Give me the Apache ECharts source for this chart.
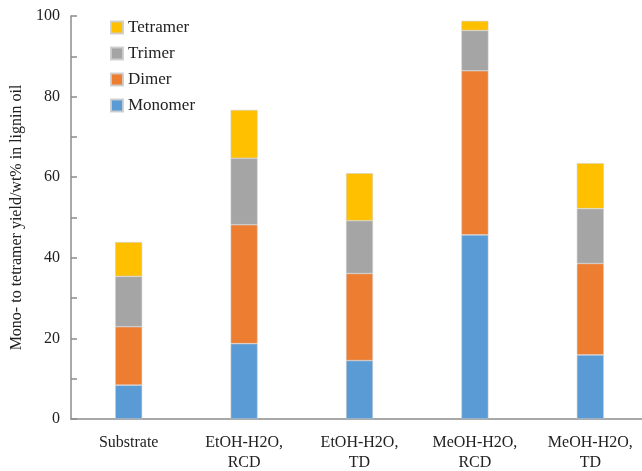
<!DOCTYPE html>
<html>
<head>
<meta charset="utf-8">
<script src="https://cdn.jsdelivr.net/npm/echarts@6/dist/echarts.min.js"></script>
<style>html,body{margin:0;padding:0;background:#fff;}#chart{width:642px;height:471px;}</style>
</head>
<body>
<div id="chart"></div>
<script>
const categories = ['Substrate', 'EtOH-H2O,\nRCD', 'EtOH-H2O,\nTD', 'MeOH-H2O,\nRCD', 'MeOH-H2O,\nTD'];
const monomer = [8.4, 18.7, 14.5, 45.7, 15.9];
const dimer = [14.5, 29.5, 21.6, 40.7, 22.7];
const trimer = [12.5, 16.5, 13.1, 10.0, 13.6];
const tetramer = [8.5, 12.0, 11.8, 2.4, 11.3];
const yTicks = [0, 20, 40, 60, 80, 100];

const font = 'Liberation Serif, Times New Roman, serif';
const chart = echarts.init(document.getElementById('chart'), null, {renderer: 'canvas'});
function s(name, data, color) {
  return {
    name: name, type: 'bar', stack: 'total', data: data, barWidth: 27,
    itemStyle: {color: color, borderColor: 'rgba(205,205,205,0.9)', borderWidth: 0.6},
    emphasis: {disabled: true}
  };
}
chart.setOption({
  animation: false,
  textStyle: {fontFamily: font},
  grid: {left: 71, right: -6, top: 16, bottom: 52, containLabel: false, outerBoundsMode: 'none'},
  legend: {
    data: ['Tetramer', 'Trimer', 'Dimer', 'Monomer'],
    orient: 'vertical', left: 105, top: 14,
    itemWidth: 12, itemHeight: 12, itemGap: 9,
    icon: 'rect',
    textStyle: {fontFamily: font, fontSize: 17, color: '#222'}
  },
  xAxis: {
    type: 'category', data: categories,
    axisLine: {lineStyle: {color: '#8c8c8c', width: 1.5}},
    axisTick: {show: false},
    axisLabel: {fontFamily: font, fontSize: 16, color: '#222', margin: 14, lineHeight: 20, interval: 0}
  },
  yAxis: {
    type: 'value', min: yTicks[0], max: yTicks[yTicks.length - 1], interval: 20,
    name: 'Mono- to tetramer yield/wt% in lignin oil',
    nameLocation: 'middle', nameGap: 44,
    nameTextStyle: {fontFamily: font, fontSize: 16, color: '#222'},
    axisLine: {show: true, lineStyle: {color: '#8c8c8c', width: 1.5}},
    axisTick: {show: true, inside: true, length: 6, lineStyle: {color: '#8c8c8c', width: 1.5}},
    minorTick: {show: true, splitNumber: 2, length: 6, lineStyle: {color: '#8c8c8c', width: 1.5}},
    splitLine: {show: false},
    axisLabel: {fontFamily: font, fontSize: 16, color: '#222', margin: 11}
  },
  series: [
    s('Monomer', monomer, '#5B9BD5'),
    s('Dimer', dimer, '#ED7D31'),
    s('Trimer', trimer, '#A5A5A5'),
    s('Tetramer', tetramer, '#FFC000')
  ]
});
</script>
</body>
</html>
